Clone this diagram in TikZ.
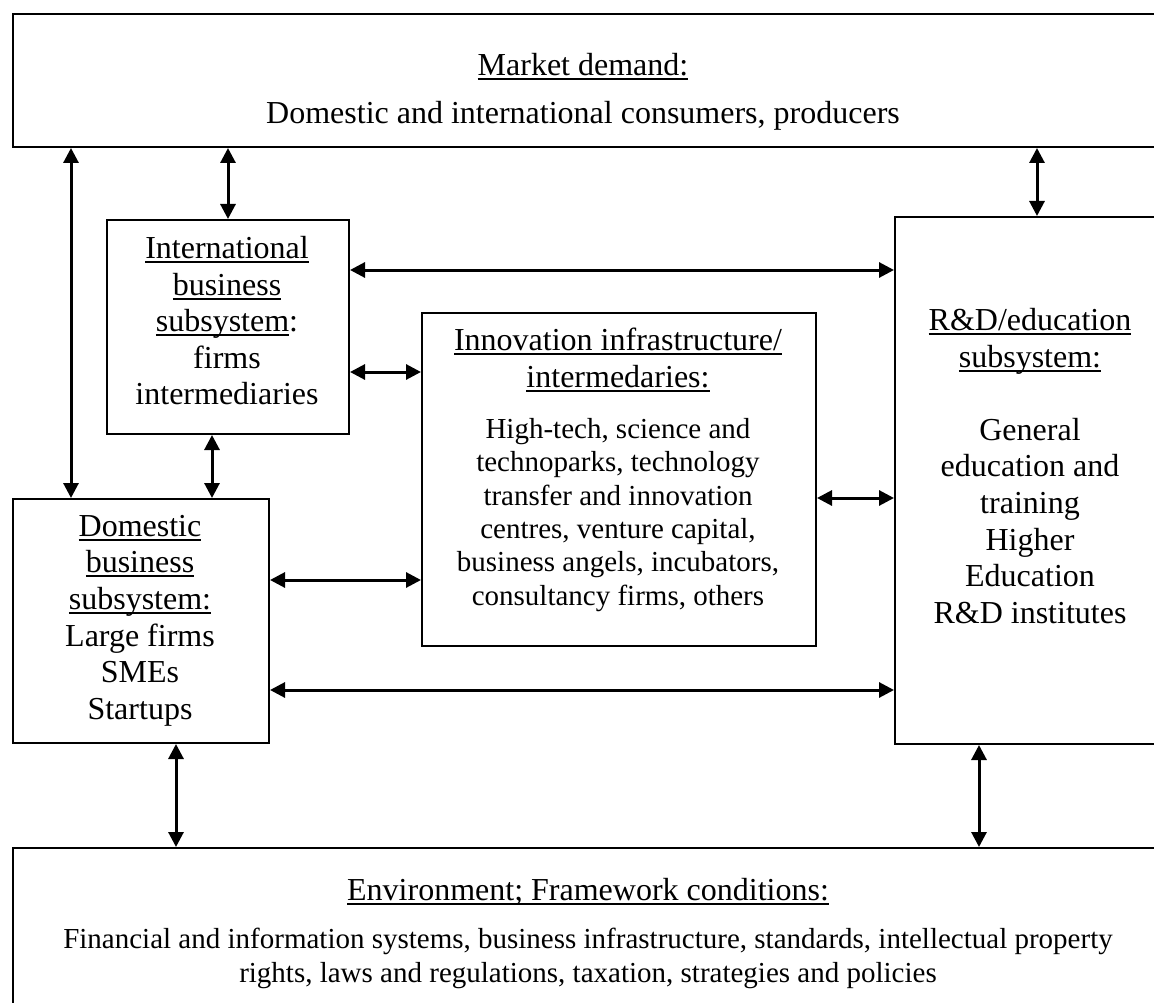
\documentclass[tikz,border=0pt]{standalone}
\usepackage{fontspec}
\setmainfont{Liberation Serif}
\usetikzlibrary{arrows.meta}
\newcommand{\undl}[1]{\vtop{\hbox{\raisebox{0pt}[\height][0pt]{#1}}\kern2.5pt\hrule height 2pt}}
\newcommand{\hdfont}{\fontsize{32}{36.6}\selectfont}
\newcommand{\bdfont}{\fontsize{29}{33.4}\selectfont}

\begin{document}
\begin{tikzpicture}[
  x=1pt,y=-1pt,
  blk/.style={draw,line width=2pt,inner sep=0pt,anchor=north west},
  txt/.style={align=center,inner sep=0pt,anchor=north,font=\hdfont},
  link/.style={{Triangle[length=15pt,width=15pt]}-{Triangle[length=15pt,width=15pt]},line width=3pt}
]
\clip (0,0) rectangle (1154,1003);
\node[blk,minimum width=1158pt,minimum height=133pt] (top) at (12,13) {};
\node[blk,minimum width=242pt,minimum height=214pt] (int) at (106,219) {};
\node[blk,minimum width=394pt,minimum height=333pt] (inn) at (421,312) {};
\node[blk,minimum width=276pt,minimum height=527pt] (rd) at (894,216) {};
\node[blk,minimum width=256pt,minimum height=244pt] (dom) at (12,498) {};
\node[blk,minimum width=1158pt,minimum height=174pt] (env) at (12,847) {};
\node[txt] (mkttitle) at (583,53) {\undl{Market demand:}};
\node[txt] (mktbody) at (583,101) {Domestic and international consumers, producers};
\node[txt] (inttext) at (227,236) {\undl{International}\\ \undl{business}\\ \undl{subsystem}:\\ firms\\ intermediaries};
\node[txt] (inntitle) at (618,328) {\undl{Innovation infrastructure/}\\ \undl{intermedaries:}};
\node[txt,font=\bdfont] (innbody) at (618,418) {High-tech, science and\\ technoparks, technology\\ transfer and innovation\\ centres, venture capital,\\ business angels, incubators,\\ consultancy firms, others};
\node[txt] (rdtext) at (1030,308) {\undl{R\&D/education}\\ \undl{subsystem:}\\[36.6pt] General\\ education and\\ training\\ Higher\\ Education\\ R\&D institutes};
\node[txt] (domtext) at (140,515) {\undl{Domestic}\\ \undl{business}\\ \undl{subsystem:}\\ Large firms\\ SMEs\\ Startups};
\node[txt] (envtitle) at (588,878) {\undl{Environment; Framework conditions:}};
\node[txt,font=\bdfont] (envbody) at (588,928) {Financial and information systems, business infrastructure, standards, intellectual property\\ rights, laws and regulations, taxation, strategies and policies};
\draw[link] ([xshift=59pt]dom.north west |- top.south) -- ([xshift=59pt]dom.north west);
\draw[link] (int.north |- top.south) -- (int.north);
\draw[link] ([xshift=143pt]rd.north west |- top.south) -- ([xshift=143pt]rd.north west);
\draw[link] ([xshift=106pt]int.south west) -- ([xshift=106pt]int.south west |- dom.north);
\draw[link] ([yshift=-51pt]int.north east) -- ([yshift=-51pt]int.north east -| rd.west);
\draw[link] ([yshift=-153pt]int.north east) -- ([yshift=-153pt]int.north east -| inn.west);
\draw[link] ([yshift=-82pt]dom.north east) -- ([yshift=-82pt]dom.north east -| inn.west);
\draw[link] ([yshift=-186pt]inn.north east) -- ([yshift=-186pt]inn.north east -| rd.west);
\draw[link] ([yshift=-192pt]dom.north east) -- ([yshift=-192pt]dom.north east -| rd.west);
\draw[link] ([xshift=164pt]dom.south west) -- ([xshift=164pt]dom.south west |- env.north);
\draw[link] ([xshift=85pt]rd.south west) -- ([xshift=85pt]rd.south west |- env.north);
\end{tikzpicture}
\end{document}
